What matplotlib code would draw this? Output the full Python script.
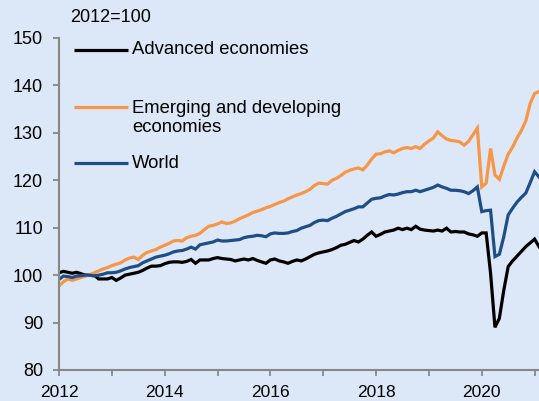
import numpy as np
import matplotlib
matplotlib.use("Agg")
from matplotlib import pyplot as plt

# monthly index, Jan 2012 .. Feb 2021 (2012=100)
advanced = [
    100.5, 100.8, 100.6, 100.4, 100.6, 100.3, 100.0, 100.0, 100.0, 99.2, 99.2, 99.2,
    99.5, 98.9, 99.4, 100.0, 100.2, 100.4, 100.6, 101.0, 101.5, 101.9, 101.9, 102.0,
    102.4, 102.7, 102.8, 102.8, 102.7, 102.9, 103.3, 102.5, 103.2, 103.2, 103.2, 103.5,
    103.7, 103.5, 103.4, 103.3, 103.0, 103.2, 103.4, 103.2, 103.5, 103.1, 102.8, 102.5,
    103.2, 103.4, 103.0, 102.8, 102.5, 102.9, 103.2, 103.0, 103.4, 103.9, 104.4, 104.7,
    104.9, 105.1, 105.4, 105.8, 106.3, 106.5, 106.9, 107.3, 107.0, 107.6, 108.4, 109.1,
    108.2, 108.6, 109.1, 109.3, 109.5, 109.9, 109.6, 109.9, 109.6, 110.3, 109.7, 109.5,
    109.4, 109.3, 109.5, 109.3, 109.9, 109.1, 109.2, 109.1, 109.1, 108.7, 108.5, 108.2,
    108.9, 108.9, 100.4, 89.0, 90.9, 96.8, 101.8, 103.0, 104.0, 105.0, 106.0, 106.8,
    107.6, 106.0,
]
emerging = [
    97.7, 98.6, 99.2, 98.9, 99.2, 99.5, 99.8, 100.1, 100.5, 100.9, 101.3, 101.6,
    102.0, 102.3, 102.6, 103.2, 103.6, 103.8, 103.3, 104.2, 104.8, 105.1, 105.4, 105.9,
    106.3, 106.7, 107.2, 107.3, 107.2, 107.9, 108.2, 108.4, 108.8, 109.6, 110.3, 110.5,
    110.8, 111.2, 110.9, 111.0, 111.4, 111.9, 112.3, 112.7, 113.2, 113.5, 113.8, 114.2,
    114.5, 114.9, 115.3, 115.6, 116.1, 116.5, 116.9, 117.2, 117.6, 118.1, 118.9, 119.4,
    119.3, 119.2, 120.0, 120.4, 121.0, 121.7, 122.1, 122.4, 122.6, 122.2, 123.2, 124.5,
    125.5, 125.6, 126.0, 126.2, 125.8, 126.3, 126.7, 126.9, 126.7, 127.1, 126.7, 127.6,
    128.3, 128.9, 130.2, 129.4, 128.7, 128.4, 128.3, 128.1, 127.4, 128.2, 129.6, 131.0,
    118.6, 119.4, 126.7, 121.1, 120.2, 123.0, 125.5, 127.0, 128.9, 130.5, 132.5, 136.2,
    138.3, 138.7,
]
world = [
    99.1, 99.8, 99.7, 99.5, 99.8, 99.9, 100.0, 100.0, 99.8, 100.0, 100.2, 100.5,
    100.5, 100.6, 100.9, 101.3, 101.6, 101.8, 102.0, 102.6, 103.0, 103.4, 103.8, 104.0,
    104.2, 104.5, 104.9, 105.1, 105.2, 105.5, 105.9, 105.5, 106.4, 106.6, 106.8, 107.0,
    107.4, 107.2, 107.2, 107.3, 107.4, 107.5, 107.9, 108.1, 108.2, 108.4, 108.3, 108.1,
    108.7, 108.9, 108.8, 108.8, 108.9, 109.2, 109.4, 109.9, 110.2, 110.5, 111.1, 111.5,
    111.6, 111.5, 112.0, 112.4, 112.9, 113.4, 113.7, 114.0, 114.4, 114.4, 115.2, 116.0,
    116.2, 116.3, 116.7, 117.0, 116.9, 117.1, 117.4, 117.6, 117.6, 117.9, 117.6, 117.9,
    118.2, 118.5, 119.0, 118.6, 118.3, 117.9, 117.9, 117.8, 117.6, 117.2, 117.8, 118.6,
    113.4, 113.6, 113.7, 103.9, 104.4, 108.1, 112.7, 114.1, 115.4, 116.4, 117.3, 119.5,
    121.8, 120.7,
]
series = [
    ("Advanced economies", advanced, "#000000"),
    ("Emerging and developing\neconomies", emerging, "#F79646"),
    ("World", world, "#1F4E87"),
]
year_ticks = [2012, 2014, 2016, 2018, 2020]
y_ticks = [80, 90, 100, 110, 120, 130, 140, 150]

bg = "#DCE8F7"
grey = "#878787"
plt.rcParams["font.family"] = ["Liberation Sans", "DejaVu Sans"]

fig = plt.figure(figsize=(5.39, 4.01), dpi=100, facecolor=bg)
ax = fig.add_axes([59 / 539, 1 - 370 / 401, 480 / 539, 332 / 401])
ax.set_facecolor(bg)

months = 2012 + np.arange(len(advanced)) / 12
for label, vals, color in series:
    ax.plot(months, vals, color=color, lw=2.3, solid_joinstyle="miter")

ax.set_xlim(2012, 2012 + (len(advanced) - 1) / 12)
ax.set_ylim(80, 150)
ax.set_xticks(year_ticks)
ax.set_xticks(np.arange(2013, 2022, 2), minor=True)
ax.set_yticks(y_ticks)

for s in ["top", "right"]:
    ax.spines[s].set_visible(False)
for s in ["left", "bottom"]:
    ax.spines[s].set_color(grey)
    ax.spines[s].set_linewidth(1.5)
ax.tick_params(axis="both", which="both", direction="out", color=grey,
               width=1.3, length=4.5, labelsize=13)
ax.tick_params(axis="y", pad=7)
ax.tick_params(axis="x", pad=6, labelsize=12.5)

fig.text(70 / 539, 1 - 18 / 401, "2012=100", fontsize=13, va="center", ha="left")

# legend drawn by hand to match the layout
leg_line_y = [0.964, 0.792, 0.623]
leg_text_y = [0.964, 0.813, 0.623]
for (label, vals, color), ly, ty in zip(series, leg_line_y, leg_text_y):
    ax.plot([0.031, 0.144], [ly, ly], color=color, lw=2.3,
            transform=ax.transAxes, solid_capstyle="butt")
    ax.text(0.152, ty, label, transform=ax.transAxes, fontsize=13.3,
            va="top" if "\n" in label else "center", ha="left",
            linespacing=1.12)

fig.savefig("out.png", dpi=100, facecolor=bg)
